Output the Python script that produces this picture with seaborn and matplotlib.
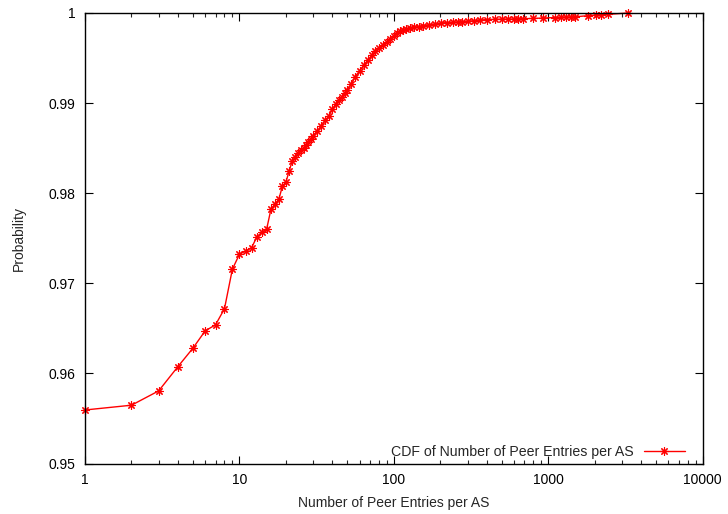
import numpy as np
import pandas as pd
import matplotlib as mpl
import matplotlib.pyplot as plt
import matplotlib.ticker as mticker
import seaborn as sns

peer_entries = [
    1, 2, 3, 4, 5, 6, 7, 8, 9, 10,
    11, 12, 13, 14, 15, 16, 17, 18, 19, 20,
    21, 22, 23, 24, 25, 26, 27, 28, 29, 30,
    32, 34, 36, 38, 40, 42, 44, 46, 48, 50,
    53, 56, 60, 64, 68, 72, 76, 80, 85, 90,
    95, 100, 105, 110, 115, 120, 127, 135, 145, 155,
    170, 185, 203, 220, 240, 260, 275, 300, 330, 360,
    400, 450, 500, 550, 600, 640, 685, 800, 920, 1100,
    1200, 1300, 1400, 1500, 1800, 2040, 2200, 2420, 3300,
]
probability = [
    0.95594, 0.95647, 0.95806, 0.96076, 0.96280, 0.96472, 0.96539, 0.96717, 0.97156, 0.97322,
    0.97359, 0.97396, 0.97519, 0.97567, 0.97600, 0.97822, 0.97878, 0.97933, 0.98081, 0.98122,
    0.98248, 0.98359, 0.98400, 0.98450, 0.98480, 0.98500, 0.98530, 0.98570, 0.98600, 0.98640,
    0.98690, 0.98750, 0.98810, 0.98860, 0.98930, 0.98990, 0.99030, 0.99070, 0.99110, 0.99150,
    0.99210, 0.99290, 0.99360, 0.99420, 0.99480, 0.99530, 0.99580, 0.99610, 0.99650, 0.99680,
    0.99710, 0.99750, 0.99780, 0.99800, 0.99810, 0.99820, 0.99830, 0.99840, 0.99850, 0.99860,
    0.99870, 0.99875, 0.99890, 0.99893, 0.99897, 0.99900, 0.99903, 0.99908, 0.99915, 0.99922,
    0.99927, 0.99930, 0.99932, 0.99933, 0.99933, 0.99934, 0.99937, 0.99940, 0.99944, 0.99950,
    0.99952, 0.99955, 0.99957, 0.99958, 0.99970, 0.99978, 0.99980, 0.99985, 1.00000,
]
x_ticks = [1, 10, 100, 1000, 10000]
y_ticks = [0.95, 0.96, 0.97, 0.98, 0.99, 1.0]

sns.set_style("ticks")
plt.rcParams['font.family'] = ['Liberation Sans', 'DejaVu Sans']
plt.rcParams['font.size'] = 10
plt.rcParams['xtick.direction'] = 'in'
plt.rcParams['ytick.direction'] = 'in'

df = pd.DataFrame({'entries': peer_entries, 'prob': probability})

fig = plt.figure(figsize=(7.28, 5.14), dpi=100)
ax = fig.add_axes([85 / 728, 1 - 463.5 / 514, (702.7 - 85) / 728, (463.5 - 13) / 514])

sns.lineplot(data=df, x='entries', y='prob', ax=ax, color='#ff0000',
             linewidth=1.0, marker=(8, 2, 0), markersize=6, markeredgewidth=0.8,
             markeredgecolor='#ff0000', clip_on=False,
             label='CDF of Number of Peer Entries per AS')

ax.set_xscale('log')
ax.set_xlim(1, 10000)
ax.set_ylim(0.95, 1.0)
ax.set_xticks(x_ticks)
ax.xaxis.set_major_formatter(mticker.FuncFormatter(lambda v, p: f"{v:g}"))
ax.xaxis.set_minor_locator(mticker.LogLocator(base=10, subs=np.arange(2, 10)))
ax.xaxis.set_minor_formatter(mticker.NullFormatter())
ax.set_yticks(y_ticks)
ax.yaxis.set_major_formatter(mticker.FuncFormatter(lambda v, p: f"{v:g}"))
ax.yaxis.set_minor_locator(mticker.NullLocator())

ax.tick_params(axis='both', which='major', length=6, width=0.8, top=True, right=True,
               colors='black', labelsize=10, pad=7)
ax.tick_params(axis='x', which='minor', length=3, width=0.8, top=True, bottom=True)
for s in ax.spines.values():
    s.set_visible(True)
    s.set_linewidth(1.0)
    s.set_color('black')

ax.set_xlabel('Number of Peer Entries per AS', fontsize=10, labelpad=6)
ax.set_ylabel('Probability', fontsize=10, labelpad=16)

ax.legend(loc='lower right', bbox_to_anchor=(0.987, -0.013), frameon=False,
          markerfirst=False, handlelength=2.9, fontsize=10.2,
          borderaxespad=0.3, handletextpad=0.7)

fig.savefig('out.png', dpi=100)
